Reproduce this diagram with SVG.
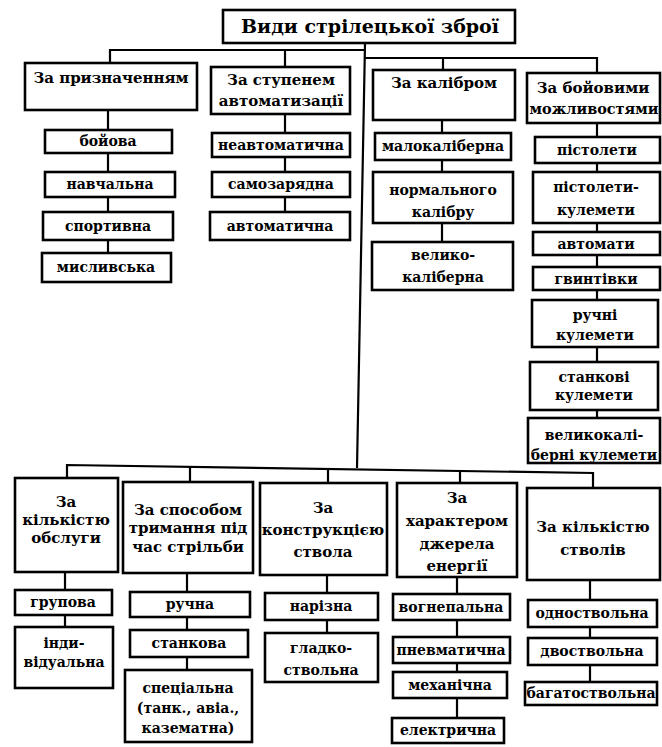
<svg xmlns="http://www.w3.org/2000/svg" width="662" height="747" viewBox="0 0 662 747">
<style>
.b{fill:#fff;stroke:#000;stroke-width:2.6}
.c{fill:none;stroke:#000;stroke-width:2.2}
text{font-family:"DejaVu Serif","Liberation Serif",serif;font-weight:bold;font-size:14px;text-anchor:middle;fill:#000}
.h{font-size:15px}
.t{font-size:19px}
</style>
<rect width="662" height="747" fill="#fff"/>
<g id="connectors" class="c">
<path d="M365,43 L357,468"/>
<path d="M110,63 V50 H365"/>
<path d="M285,50 V67"/>
<path d="M365,58 H597 V73"/>
<path d="M443,58 V70"/>
<path d="M108,110 V253"/>
<path d="M285,114 V212"/>
<path d="M442,120 V242"/>
<path d="M597,123 V418"/>
<path d="M67,478 V465 L593,473 V488"/>
<path d="M190,466 V482"/>
<path d="M328,468 V483"/>
<path d="M460,470 V483"/>
<path d="M65,572 V627"/>
<path d="M187,573 V670"/>
<path d="M327,575 V633"/>
<path d="M457,577 V718"/>
<path d="M590,580 V682"/>
</g>
<g id="root"><rect class="b" x="223" y="10" width="292" height="33"/><text class="t" x="370" y="33">Види стрілецької зброї</text></g>
<g id="n1" class="h"><rect class="b" x="25" y="63" width="172" height="47"/><text class="h" x="111" y="83">За призначенням</text></g>
<g id="n2"><rect class="b" x="211" y="67" width="139" height="47"/><text class="h" x="281" y="85">За ступенем</text><text class="h" x="281" y="106">автоматизації</text></g>
<g id="n3"><rect class="b" x="373" y="70" width="142" height="50"/><text class="h" x="444" y="88">За калібром</text></g>
<g id="n4"><rect class="b" x="527" y="73" width="133" height="50"/><text class="h" x="593" y="93">За бойовими</text><text class="h" x="594" y="114" textLength="129" lengthAdjust="spacingAndGlyphs">можливостями</text></g>
<g id="n1a"><rect class="b" x="45" y="130" width="127" height="23"/><text x="108" y="146">бойова</text></g>
<g id="n1b"><rect class="b" x="45" y="172" width="130" height="25"/><text x="110" y="189">навчальна</text></g>
<g id="n1c"><rect class="b" x="43" y="212" width="130" height="28"/><text x="108" y="231">спортивна</text></g>
<g id="n1d"><rect class="b" x="42" y="253" width="129" height="29"/><text x="106" y="272">мисливська</text></g>
<g id="n2a"><rect class="b" x="212" y="133" width="138" height="24"/><text x="281" y="150">неавтоматична</text></g>
<g id="n2b"><rect class="b" x="212" y="172" width="138" height="25"/><text x="281" y="189">самозарядна</text></g>
<g id="n2c"><rect class="b" x="210" y="212" width="140" height="28"/><text x="280" y="231">автоматична</text></g>
<g id="n3a"><rect class="b" x="375" y="133" width="136" height="27"/><text x="443" y="151">малокаліберна</text></g>
<g id="n3b"><rect class="b" x="373" y="172" width="140" height="51"/><text x="443" y="195">нормального</text><text x="443" y="217">калібру</text></g>
<g id="n3c"><rect class="b" x="372" y="242" width="141" height="48"/><text x="443" y="260">велико-</text><text x="443" y="282">каліберна</text></g>
<g id="n4a"><rect class="b" x="535" y="137" width="125" height="26"/><text x="597" y="155">пістолети</text></g>
<g id="n4b"><rect class="b" x="533" y="172" width="127" height="51"/><text x="596" y="192">пістолети-</text><text x="596" y="215">кулемети</text></g>
<g id="n4c"><rect class="b" x="533" y="232" width="127" height="23"/><text x="596" y="249">автомати</text></g>
<g id="n4d"><rect class="b" x="533" y="267" width="127" height="23"/><text x="596" y="284">гвинтівки</text></g>
<g id="n4e"><rect class="b" x="532" y="300" width="126" height="47"/><text x="595" y="320">ручні</text><text x="595" y="340">кулемети</text></g>
<g id="n4f"><rect class="b" x="530" y="362" width="128" height="48"/><text x="594" y="382">станкові</text><text x="594" y="400">кулемети</text></g>
<g id="n4g"><rect class="b" x="528" y="418" width="132" height="45"/><text x="594" y="440">великокалі-</text><text x="594" y="460">берні кулемети</text></g>
<g id="nA"><rect class="b" x="15" y="478" width="103" height="94"/><text class="h" x="66" y="507">За</text><text class="h" x="66" y="525">кількістю</text><text class="h" x="66" y="543">обслуги</text></g>
<g id="nB"><rect class="b" x="123" y="482" width="130" height="91"/><text class="h" x="188" y="515">За способом</text><text class="h" x="188" y="533">тримання під</text><text class="h" x="188" y="552">час стрільби</text></g>
<g id="nC"><rect class="b" x="260" y="483" width="127" height="92"/><text class="h" x="323" y="513">За</text><text class="h" x="323" y="535">конструкцією</text><text class="h" x="323" y="557">ствола</text></g>
<g id="nD"><rect class="b" x="397" y="483" width="120" height="94"/><text class="h" x="457" y="503">За</text><text class="h" x="457" y="526">характером</text><text class="h" x="457" y="549">джерела</text><text class="h" x="457" y="571">енергії</text></g>
<g id="nE"><rect class="b" x="527" y="488" width="133" height="92"/><text class="h" x="593" y="532">За кількістю</text><text class="h" x="593" y="555">стволів</text></g>
<g id="nA1"><rect class="b" x="15" y="590" width="97" height="25"/><text x="63" y="607">групова</text></g>
<g id="nA2"><rect class="b" x="15" y="627" width="98" height="61"/><text x="64" y="648">інди-</text><text x="64" y="667">відуальна</text></g>
<g id="nB1"><rect class="b" x="130" y="592" width="120" height="25"/><text x="190" y="609">ручна</text></g>
<g id="nB2"><rect class="b" x="130" y="630" width="118" height="27"/><text x="189" y="648">станкова</text></g>
<g id="nB3"><rect class="b" x="125" y="670" width="127" height="72"/><text x="188" y="693">спеціальна</text><text x="188" y="713">(танк., авіа.,</text><text x="188" y="733">казематна)</text></g>
<g id="nC1"><rect class="b" x="265" y="593" width="113" height="27"/><text x="321" y="611">нарізна</text></g>
<g id="nC2"><rect class="b" x="265" y="633" width="113" height="49"/><text x="321" y="653">гладко-</text><text x="321" y="675">ствольна</text></g>
<g id="nD1"><rect class="b" x="393" y="594" width="117" height="26"/><text x="451" y="612">вогнепальна</text></g>
<g id="nD2"><rect class="b" x="393" y="637" width="117" height="26"/><text x="451" y="655">пневматична</text></g>
<g id="nD3"><rect class="b" x="393" y="672" width="114" height="26"/><text x="450" y="690">механічна</text></g>
<g id="nD4"><rect class="b" x="392" y="718" width="112" height="25"/><text x="448" y="735">електрична</text></g>
<g id="nE1"><rect class="b" x="528" y="600" width="129" height="27"/><text x="592" y="618">одноствольна</text></g>
<g id="nE2"><rect class="b" x="528" y="638" width="129" height="27"/><text x="592" y="656">двоствольна</text></g>
<g id="nE3"><rect class="b" x="525" y="682" width="132" height="23"/><text x="591" y="698">багатоствольна</text></g>
</svg>
